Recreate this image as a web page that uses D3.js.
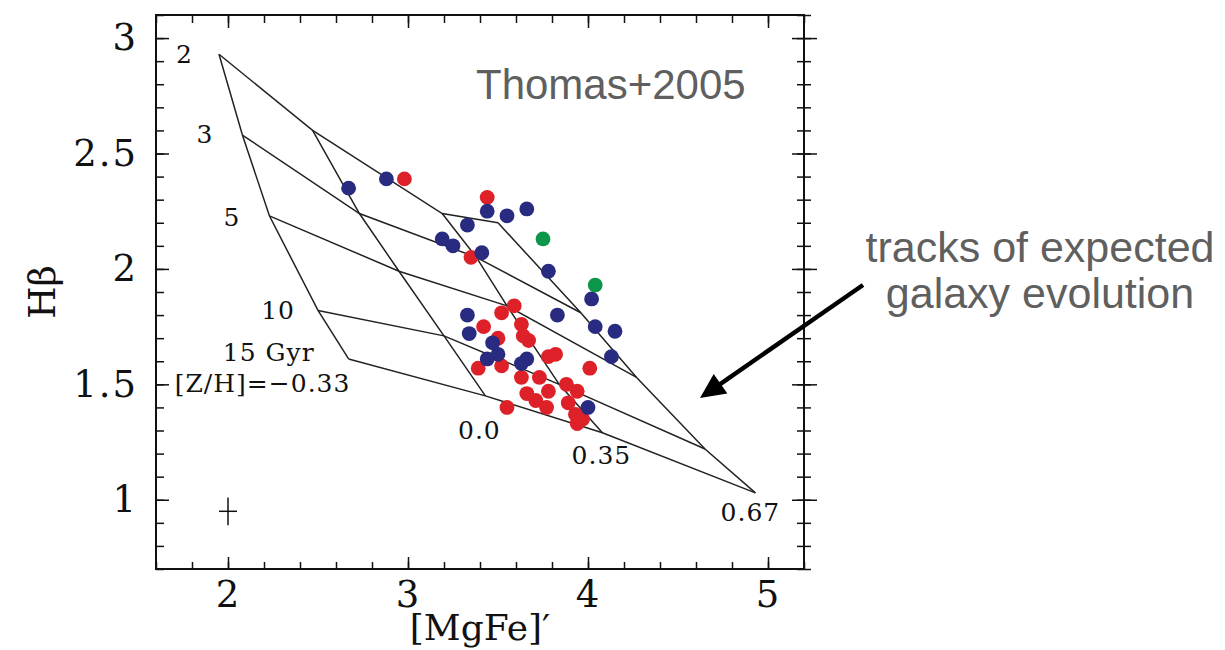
<!DOCTYPE html>
<html>
<head>
<meta charset="utf-8">
<script src="https://cdn.jsdelivr.net/npm/d3@7"></script>
<style>
	body { margin: 0; background: #fff; }
	svg { display: block; }
	.tick text { font-family: 'DejaVu Serif', serif; font-size: 37px; letter-spacing: 2px; fill: #111; }
	.tick line { stroke: #111; stroke-width: 1.5; }
</style>
</head>
<body>
<svg id="chart" width="1225" height="650"></svg>
<script>

// Model grid (Thomas+2005): ages along rows, [Z/H] along columns
var ages = [2, 3, 5, 10, 15];
var ageLabels = ['2', '3', '5', '10', '15 Gyr'];
var metallicities = [-0.33, 0.0, 0.35, 0.67];
var metalLabels = ['[Z/H]=\u22120.33', '0.0', '0.35', '0.67'];

var gridMgFe = [
	[1.95, 2.47, 3.19, 3.50],
	[2.08, 2.73, 3.38, 3.96],
	[2.23, 2.95, 3.55, 4.27],
	[2.50, 3.20, 3.84, 4.65],
	[2.67, 3.43, 4.08, 4.93]
];
var gridHbeta = [
	[2.93, 2.60, 2.24, 2.20],
	[2.58, 2.24, 2.05, 1.81],
	[2.23, 1.99, 1.84, 1.53],
	[1.82, 1.71, 1.50, 1.22],
	[1.61, 1.45, 1.29, 1.03]
];

// Galaxies
var redMgFe  = [2.98, 3.44, 3.35, 3.59, 3.52, 3.42, 3.63, 3.64, 3.67, 3.50, 3.78, 3.82, 3.39, 3.52, 4.01, 3.63, 3.73, 3.66, 3.71, 3.78, 3.77, 3.88, 3.94, 3.89, 3.55, 3.93, 3.97, 3.94];
var redHbeta = [2.39, 2.31, 2.05, 1.84, 1.81, 1.75, 1.76, 1.71, 1.69, 1.70, 1.62, 1.63, 1.57, 1.58, 1.57, 1.53, 1.53, 1.46, 1.43, 1.47, 1.40, 1.50, 1.47, 1.42, 1.40, 1.37, 1.35, 1.33];

var blueMgFe  = [2.67, 2.88, 3.44, 3.55, 3.66, 3.33, 3.19, 3.25, 3.41, 3.78, 4.02, 3.83, 3.33, 3.34, 4.04, 4.15, 3.47, 3.50, 3.44, 3.66, 3.63, 4.13, 4.00];
var blueHbeta = [2.35, 2.39, 2.25, 2.23, 2.26, 2.19, 2.13, 2.10, 2.07, 1.99, 1.87, 1.80, 1.80, 1.72, 1.75, 1.73, 1.68, 1.63, 1.61, 1.61, 1.59, 1.62, 1.40];

var greenMgFe  = [3.75, 4.04];
var greenHbeta = [2.13, 1.93];

// typical error bar
var errPoint = [2.0, 0.95];
var errSize = [0.05, 0.06];

// Axes ticks
var xMajorTicks = [2, 3, 4, 5];
var xMinorTicks = d3.range(8, 27).map(function(d) { return d / 5; });
var yMajorTicks = [1, 1.5, 2, 2.5, 3];
var yMinorTicks = d3.range(7, 32).map(function(d) { return d / 10; });

// 1. Sizes and scales
var margin = {top: 15, right: 421, bottom: 81, left: 156};
var width = 1225 - margin.left - margin.right;
var height = 650 - margin.top - margin.bottom;

var x = d3.scaleLinear().domain([1.6, 5.2]).range([0, width]);
var y = d3.scaleLinear().domain([0.7, 3.1]).range([height, 0]);

var svg = d3.select('#chart');
var g = svg.append('g').attr('transform', 'translate(' + margin.left + ',' + margin.top + ')');

// 2. Axes (ticks inside, right axis ticks cross the frame)
g.append('g').attr('transform', 'translate(0,' + height + ')')
	.call(d3.axisBottom(x).tickValues(xMinorTicks).tickSize(-7).tickFormat(''));
g.append('g').attr('transform', 'translate(0,' + height + ')')
	.call(d3.axisBottom(x).tickValues(xMajorTicks).tickSize(-12).tickPadding(12).tickFormat(function(d) { return d; }));

g.append('g').call(d3.axisTop(x).tickValues(xMinorTicks).tickSize(-8).tickFormat(''));
g.append('g').call(d3.axisTop(x).tickValues(xMajorTicks).tickSize(-13).tickFormat(''));

g.append('g').call(d3.axisLeft(y).tickValues(yMinorTicks).tickSize(-8).tickFormat(''));
g.append('g').call(d3.axisLeft(y).tickValues(yMajorTicks).tickSize(-13).tickPadding(18).tickFormat(function(d) { return d; }));

g.append('g').attr('transform', 'translate(' + width + ',0)')
	.call(d3.axisRight(y).tickValues(yMinorTicks).tickSize(7).tickFormat(''));
g.append('g').attr('transform', 'translate(' + width + ',0)')
	.call(d3.axisRight(y).tickValues(yMinorTicks).tickSize(-7).tickFormat(''));
g.append('g').attr('transform', 'translate(' + width + ',0)')
	.call(d3.axisRight(y).tickValues(yMajorTicks).tickSize(13).tickFormat(''));
g.append('g').attr('transform', 'translate(' + width + ',0)')
	.call(d3.axisRight(y).tickValues(yMajorTicks).tickSize(-12).tickFormat(''));

g.selectAll('.domain').remove();

g.append('rect')
	.attr('width', width)
	.attr('height', height)
	.style('fill', 'none')
	.style('stroke', '#111')
	.style('stroke-width', 2);

// axis titles
g.append('text')
	.attr('x', width / 2)
	.attr('y', height + 71)
	.attr('text-anchor', 'middle')
	.style('font-family', 'DejaVu Serif, serif')
	.style('font-size', '36px')
	.style('fill', '#111')
	.text('[MgFe]\u2032');

g.append('text')
	.attr('transform', 'translate(' + (55 - margin.left) + ',' + (height / 2) + ') rotate(-90)')
	.attr('text-anchor', 'middle')
	.style('font-family', 'DejaVu Serif, serif')
	.style('font-size', '37px')
	.style('fill', '#111')
	.text('H\u03B2');

// 3. Model grid
var gridLine = d3.line()
	.x(function(d) { return x(d[0]); })
	.y(function(d) { return y(d[1]); });

// lines of constant age
ages.forEach(function(age, i) {
	var pts = metallicities.map(function(z, j) { return [gridMgFe[i][j], gridHbeta[i][j]]; });
	g.append('path').datum(pts)
		.attr('class', 'ageLine')
		.style('fill', 'none')
		.style('stroke', '#222')
		.style('stroke-width', 1.5)
		.attr('d', gridLine);
});

// lines of constant metallicity
metallicities.forEach(function(z, j) {
	var pts = ages.map(function(age, i) { return [gridMgFe[i][j], gridHbeta[i][j]]; });
	g.append('path').datum(pts)
		.attr('class', 'metalLine')
		.style('fill', 'none')
		.style('stroke', '#222')
		.style('stroke-width', 1.5)
		.attr('d', gridLine);
});

// labels of the grid (offsets in pixels from the grid node)
var ageLabelOffset = [[-26, 9], [-29, 8], [-29, 10], [-23, 9], [-34, 2]];
g.selectAll('.ageLabel').data(ageLabels).enter().append('text')
	.attr('class', 'ageLabel')
	.attr('text-anchor', 'end')
	.attr('x', function(d, i) { return x(gridMgFe[i][0]) + ageLabelOffset[i][0]; })
	.attr('y', function(d, i) { return y(gridHbeta[i][0]) + ageLabelOffset[i][1]; })
	.style('font-family', 'DejaVu Serif, serif')
	.style('font-size', '25px')
	.style('letter-spacing', '1px')
	.style('fill', '#111')
	.text(function(d) { return d; });

var metalLabelOffset = [[-86, 33], [-6, 43], [-1, 31], [-5, 28]];
var last = ages.length - 1;
g.selectAll('.metalLabel').data(metalLabels).enter().append('text')
	.attr('class', 'metalLabel')
	.attr('text-anchor', 'middle')
	.attr('x', function(d, j) { return x(gridMgFe[last][j]) + metalLabelOffset[j][0]; })
	.attr('y', function(d, j) { return y(gridHbeta[last][j]) + metalLabelOffset[j][1]; })
	.style('font-family', 'DejaVu Serif, serif')
	.style('font-size', '25px')
	.style('letter-spacing', '1px')
	.style('fill', '#111')
	.text(function(d) { return d; });

// 4. Galaxies
var drawDots = function(xs, ys, color) {
	g.append('g').selectAll('circle').data(xs).enter().append('circle')
		.attr('cx', function(d) { return x(d); })
		.attr('cy', function(d, i) { return y(ys[i]); })
		.attr('r', 7.4)
		.style('fill', color);
};

drawDots(redMgFe, redHbeta, '#de2128');
drawDots(blueMgFe, blueHbeta, '#282b80');
drawDots(greenMgFe, greenHbeta, '#0b9649');

// error cross
g.append('line')
	.attr('x1', x(errPoint[0] - errSize[0])).attr('x2', x(errPoint[0] + errSize[0]))
	.attr('y1', y(errPoint[1])).attr('y2', y(errPoint[1]))
	.style('stroke', '#111').style('stroke-width', 1.5);
g.append('line')
	.attr('x1', x(errPoint[0])).attr('x2', x(errPoint[0]))
	.attr('y1', y(errPoint[1] - errSize[1])).attr('y2', y(errPoint[1] + errSize[1]))
	.style('stroke', '#111').style('stroke-width', 1.5);

// 5. Annotations
svg.append('text')
	.attr('x', 476)
	.attr('y', 99)
	.style('font-family', 'Liberation Sans, Arial, sans-serif')
	.style('font-size', '42px')
	.style('fill', '#5f5f5f')
	.text('Thomas+2005');

var note = svg.append('text')
	.attr('text-anchor', 'middle')
	.style('font-family', 'Liberation Sans, Arial, sans-serif')
	.style('font-size', '43px')
	.style('fill', '#5f5f5f');
note.append('tspan').attr('x', 1040).attr('y', 262).text('tracks of expected');
note.append('tspan').attr('x', 1040).attr('y', 308).text('galaxy evolution');

// arrow
var arrowFrom = [863, 285];
var arrowTo = [700, 398];
var adx = arrowTo[0] - arrowFrom[0];
var ady = arrowTo[1] - arrowFrom[1];
var alen = Math.sqrt(adx * adx + ady * ady);
var ux = adx / alen, uy = ady / alen;
var headLen = 25, headHalf = 12;
var base = [arrowTo[0] - ux * headLen, arrowTo[1] - uy * headLen];

svg.append('line')
	.attr('x1', arrowFrom[0]).attr('y1', arrowFrom[1])
	.attr('x2', base[0] + ux * 4).attr('y2', base[1] + uy * 4)
	.style('stroke', '#000')
	.style('stroke-width', 4.5);

svg.append('path')
	.attr('d', 'M' + arrowTo[0] + ',' + arrowTo[1] +
		'L' + (base[0] - uy * headHalf) + ',' + (base[1] + ux * headHalf) +
		'L' + (base[0] + uy * headHalf) + ',' + (base[1] - ux * headHalf) + 'Z')
	.style('fill', '#000');

</script>
</body>
</html>
